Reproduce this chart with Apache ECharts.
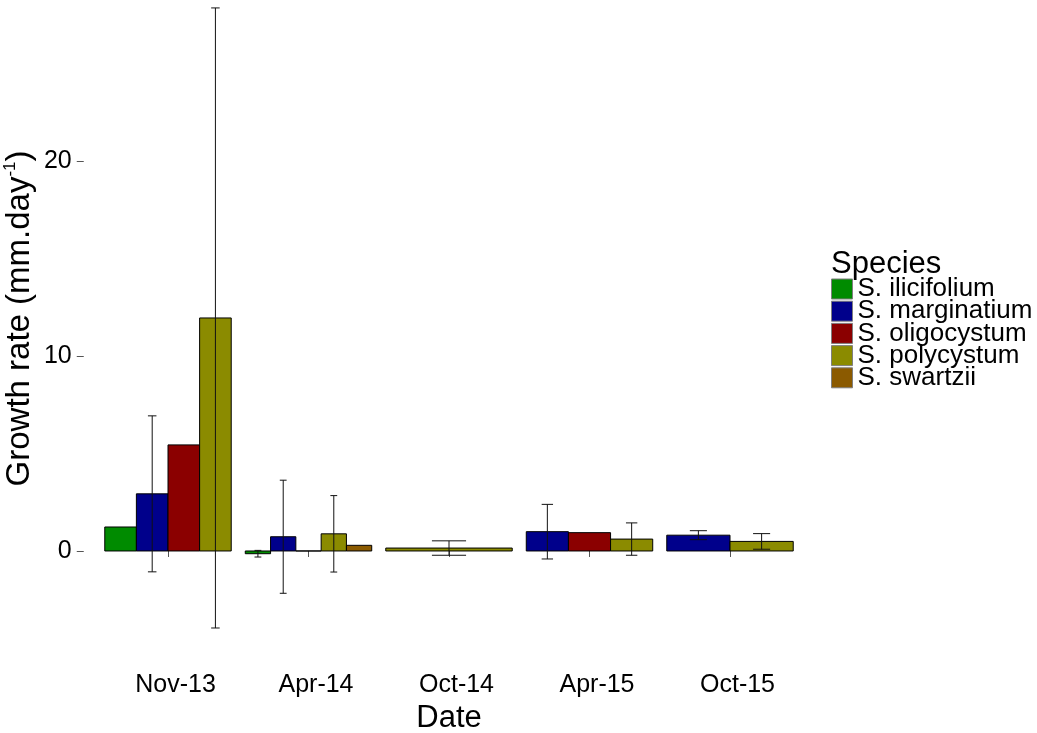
<!DOCTYPE html>
<html>
<head>
<meta charset="utf-8">
<script src="https://cdn.jsdelivr.net/npm/echarts@6/dist/echarts.min.js"></script>
<style>
html,body{margin:0;padding:0;background:#fff;}
#chart{width:1037px;height:733px;}
</style>
</head>
<body>
<div id="chart"></div>
<script>
// ---- data ----
const categories = ['Nov-13', 'Apr-14', 'Oct-14', 'Apr-15', 'Oct-15'];
const speciesNames = ['S. ilicifolium', 'S. marginatium', 'S. oligocystum', 'S. polycystum', 'S. swartzii'];
const ilicifoliumMean = [1.23, -0.14, null, null, null];
const ilicifoliumSE   = [null, 0.17, null, null, null];
const marginatiumMean = [2.93, 0.73, null, 0.99, 0.81];
const marginatiumSE   = [4.0, 2.9, null, 1.4, 0.23];
const oligocystumMean = [5.44, 0, null, 0.94, null];
const oligocystumSE   = [null, null, null, null, null];
const polycystumMean  = [11.95, 0.88, 0.15, 0.61, 0.49];
const polycystumSE    = [15.9, 1.96, 0.37, 0.83, 0.40];
const swartziiMean    = [null, 0.29, null, null, null];
const swartziiSE      = [null, null, null, null, null];
const yTickValues = [0, 10, 20];
const yMin = -5.54, yMax = 29.39;

const colors = ['#008B00', '#00008B', '#8B0000', '#8B8B00', '#8B5A00'];
const means = [ilicifoliumMean, marginatiumMean, oligocystumMean, polycystumMean, swartziiMean];
const ses = [ilicifoliumSE, marginatiumSE, oligocystumSE, polycystumSE, swartziiSE];

// dodge slots: species present in each category share the group width
const slotInfo = categories.map((c, ci) => {
  const present = [];
  means.forEach((m, si) => { if (m[ci] !== null) present.push(si); });
  return present;
});

const FONT = '"Liberation Sans", Arial, sans-serif';

function renderItem(params, api) {
  const ci = api.value(0), mean = api.value(1), se = api.value(2), slot = api.value(3), n = api.value(4);
  const band = api.size([1, 0])[0];
  const groupW = band * 0.9;
  const w = groupW / n;
  const base = api.coord([ci, 0]);
  const top = api.coord([ci, mean]);
  const x0 = base[0] - groupW / 2 + slot * w;
  const children = [{
    type: 'rect',
    shape: { x: x0, y: Math.min(base[1], top[1]), width: w, height: Math.abs(base[1] - top[1]) },
    style: { fill: api.visual('color'), stroke: '#000', lineWidth: 1 }
  }];
  if (!isNaN(se) && se !== null) {
    const xm = x0 + w / 2;
    const hi = api.coord([ci, mean + se])[1];
    const lo = api.coord([ci, mean - se])[1];
    const cw = w * 0.135;
    const st = { stroke: '#111', lineWidth: 1 };
    children.push({ type: 'line', shape: { x1: xm, y1: hi, x2: xm, y2: lo }, style: st });
    children.push({ type: 'line', shape: { x1: xm - cw, y1: hi, x2: xm + cw, y2: hi }, style: st });
    children.push({ type: 'line', shape: { x1: xm - cw, y1: lo, x2: xm + cw, y2: lo }, style: st });
  }
  return { type: 'group', children: children };
}

const series = speciesNames.map((name, si) => {
  const data = [];
  categories.forEach((c, ci) => {
    const m = means[si][ci];
    if (m === null) return;
    const present = slotInfo[ci];
    data.push([ci, m, ses[si][ci] === null ? NaN : ses[si][ci], present.indexOf(si), present.length]);
  });
  return {
    name: name,
    type: 'custom',
    renderItem: renderItem,
    itemStyle: { color: colors[si] },
    encode: { x: 0, y: 1 },
    clip: false,
    data: data
  };
});

const chart = echarts.init(document.getElementById('chart'), null, { renderer: 'canvas' });
chart.setOption({
  animation: false,
  backgroundColor: '#fff',
  textStyle: { fontFamily: FONT },
  grid: { left: 97.75, right: 236.75, top: -22.1, bottom: 74, containLabel: false, outerBoundsMode: 'none' },
  title: {
    text: 'Species', left: 831, top: 249, padding: 0,
    textStyle: { fontFamily: FONT, fontSize: 31, fontWeight: 'normal', color: '#000' }
  },
  legend: {
    data: speciesNames, orient: 'vertical', left: 831, top: 276, padding: 0,
    icon: 'rect', itemWidth: 21, itemHeight: 20, itemGap: -3.8,
    itemStyle: { borderColor: '#7f7f7f', borderWidth: 1 },
    textStyle: { fontFamily: FONT, fontSize: 26, color: '#000' },
    selectedMode: false
  },
  xAxis: {
    type: 'category', data: categories,
    name: 'Date', nameLocation: 'middle', nameGap: 44, nameMoveOverlap: false,
    nameTextStyle: { fontFamily: FONT, fontSize: 31, color: '#000' },
    axisLine: { show: false },
    axisTick: { show: true, alignWithLabel: true, length: 6, lineStyle: { color: '#555' } },
    axisLabel: { fontFamily: FONT, fontSize: 25, color: '#000', margin: 14, padding: [0, 0, 0, 15] },
    splitLine: { show: false }
  },
  yAxis: {
    type: 'value', min: yMin, max: yMax, offset: 14,
    name: '{a|Growth rate (mm.day}{b|-1}{a|)}', nameLocation: 'middle', nameGap: 46, nameMoveOverlap: false,
    nameTextStyle: {
      color: '#000',
      rich: {
        a: { fontFamily: FONT, fontSize: 33, color: '#000', lineHeight: 36 },
        b: { fontFamily: FONT, fontSize: 17, color: '#000', verticalAlign: 'top' }
      }
    },
    axisLine: { show: false },
    axisTick: { show: true, length: 7, customValues: yTickValues, lineStyle: { color: '#555' } },
    axisLabel: { fontFamily: FONT, fontSize: 25, color: '#000', margin: 12, customValues: yTickValues },
    splitLine: { show: false }
  },
  series: series
});
</script>
</body>
</html>
